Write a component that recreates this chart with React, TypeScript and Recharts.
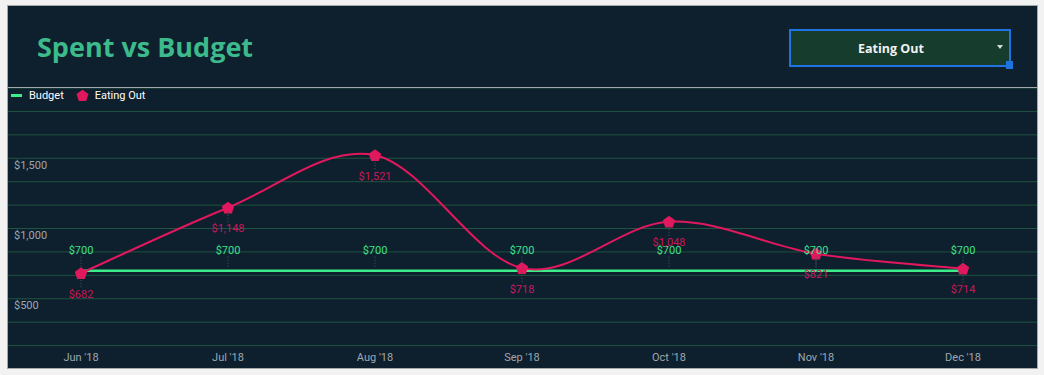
import React from "react";
import { CartesianGrid, LabelList, Legend, Line, LineChart, XAxis, YAxis } from "recharts";

// Spent vs Budget — monthly eating-out spend against a flat budget.

const months = ["Jun '18", "Jul '18", "Aug '18", "Sep '18", "Oct '18", "Nov '18", "Dec '18"];
const budget = [700, 700, 700, 700, 700, 700, 700];
const eatingOut = [682, 1148, 1521, 718, 1048, 821, 714];
const yTicks = [0, 166.667, 333.333, 500, 666.667, 833.333, 1000, 1166.667, 1333.333, 1500, 1666.667, 1833.333, 2000];
const yLabelled = [500, 1000, 1500];

const data = months.map((month, i) => ({ month, budget: budget[i], eatingOut: eatingOut[i] }));

const BG = "#0e1f2d";
const GRID = "#1f5441";
const BORDER = "#a3a8ab";
const TITLE = "#3cba8b";
const BUDGET = "#3cee89";
const BUDGET_LABEL = "#3fe08a";
const EAT = "#e2185e";
const EAT_LABEL = "#c8195b";
const AXIS_TEXT = "#9fa8ae";
const LEADER = "#4b5a62";
const FONT = "Roboto, 'Noto Sans', sans-serif";

const money = (v: number) => "$" + Math.round(v).toLocaleString("en-US");

// uniform Catmull-Rom spline, passed to Line as a d3-style curve factory
const catmullRom = (context: any) => {
  let pts: [number, number][] = [];
  return {
    areaStart() {},
    areaEnd() {},
    lineStart() {
      pts = [];
    },
    lineEnd() {
      if (!pts.length) return;
      context.moveTo(pts[0][0], pts[0][1]);
      for (let i = 0; i < pts.length - 1; i++) {
        const p0 = pts[i - 1] ?? pts[i];
        const p1 = pts[i];
        const p2 = pts[i + 1];
        const p3 = pts[i + 2] ?? pts[i + 1];
        context.bezierCurveTo(
          p1[0] + (p2[0] - p0[0]) / 6,
          p1[1] + (p2[1] - p0[1]) / 6,
          p2[0] - (p3[0] - p1[0]) / 6,
          p2[1] - (p3[1] - p1[1]) / 6,
          p2[0],
          p2[1]
        );
      }
    },
    point(x: number, y: number) {
      pts.push([x, y]);
    },
  };
};

const pentagon = (cx: number, cy: number, r: number) =>
  [0, 1, 2, 3, 4]
    .map((k) => {
      const a = -Math.PI / 2 + (k * 2 * Math.PI) / 5;
      return `${cx + r * Math.cos(a)},${cy + r * Math.sin(a)}`;
    })
    .join(" ");

const PentagonDot = (p: any) => <polygon points={pentagon(p.cx, p.cy + 0.5, 6.5)} fill={EAT} />;

const YTick = (p: any) => {
  const v = p.payload.value;
  if (!yLabelled.some((t) => Math.abs(t - v) < 1)) return <g />;
  return (
    <text x={6} y={p.y + 7} dominantBaseline="central" fill={AXIS_TEXT} fontSize={11} fontFamily={FONT}>
      {money(v)}
    </text>
  );
};

const XTick = (p: any) => (
  <text x={p.x} y={269} textAnchor="middle" dominantBaseline="central" fill={AXIS_TEXT} fontSize={11} fontFamily={FONT}>
    {p.payload.value}
  </text>
);

const BudgetLabel = (p: any) => (
  <g>
    <line x1={p.x} x2={p.x} y1={p.y - 14} y2={p.y - 2} stroke={LEADER} strokeDasharray="1 2" />
    <text x={p.x} y={p.y - 20} textAnchor="middle" dominantBaseline="central" fill={BUDGET_LABEL} fontSize={11} fontFamily={FONT}>
      {money(p.value)}
    </text>
  </g>
);

const EatLabel = (p: any) => (
  <g>
    <line x1={p.x} x2={p.x} y1={p.y + 4} y2={p.y + 15} stroke={LEADER} strokeDasharray="1 2" />
    <text x={p.x} y={p.y + 21} textAnchor="middle" dominantBaseline="central" fill={EAT_LABEL} fontSize={11} fontFamily={FONT}>
      {money(p.value)}
    </text>
  </g>
);

const LegendContent = (props: any) => (
  <div style={{ display: "flex", alignItems: "center", fontFamily: FONT, fontSize: 11, color: "#ffffff" }}>
    {(props.payload ?? []).map((e: any) => (
      <div key={e.value} style={{ display: "flex", alignItems: "center", marginRight: 12 }}>
        {e.dataKey === "eatingOut" ? (
          <svg width={13} height={13} style={{ marginRight: 6 }}>
            <polygon points={pentagon(6.5, 7, 6.3)} fill={EAT} />
          </svg>
        ) : (
          <svg width={11} height={13} style={{ marginRight: 7 }}>
            <rect x={0} y={5} width={11} height={3} fill={BUDGET} />
          </svg>
        )}
        <span>{e.value}</span>
      </div>
    ))}
  </div>
);

export default function App() {
  return (
    <div>
      <div style={{ position: "fixed", inset: 0, background: "#f2f2f2" }} />
      <div
        style={{
          position: "absolute",
          left: 7,
          top: 5,
          width: 1031,
          height: 364,
          boxSizing: "border-box",
          border: `1px solid ${BORDER}`,
          background: BG,
          overflow: "hidden",
        }}
      >
        <div style={{ position: "relative", height: 81, borderBottom: `1px solid ${BORDER}` }}>
          <div
            style={{
              position: "absolute",
              left: 29,
              top: 27,
              lineHeight: "28px",
              fontFamily: "'Open Sans', sans-serif",
              fontWeight: 700,
              fontSize: 27,
              color: TITLE,
              whiteSpace: "nowrap",
            }}
          >
            Spent vs Budget
          </div>
          <div
            style={{
              position: "absolute",
              left: 781,
              top: 23,
              width: 222,
              height: 38,
              boxSizing: "border-box",
              border: "2px solid #1f73e0",
              background: "#153c2c",
              display: "flex",
              alignItems: "center",
              justifyContent: "center",
              paddingRight: 18,
              fontFamily: "'Open Sans', sans-serif",
              fontWeight: 700,
              fontSize: 12.5,
              color: "#f2f2f2",
            }}
          >
            Eating Out
            <div
              style={{
                position: "absolute",
                left: 206,
                top: 14,
                width: 0,
                height: 0,
                borderLeft: "3.5px solid transparent",
                borderRight: "3.5px solid transparent",
                borderTop: "4px solid #d8dcdc",
              }}
            />
          </div>
          <div style={{ position: "absolute", left: 998, top: 55, width: 7, height: 8, background: "#1f73e0" }} />
        </div>
        <LineChart width={1030} height={281} data={data} margin={{ top: 0, right: 0, bottom: -1, left: -1 }}>
          <CartesianGrid vertical={false} stroke={GRID} strokeWidth={1} />
          <XAxis
            dataKey="month"
            height={1}
            axisLine={false}
            tickLine={false}
            interval={0}
            padding={{ left: 73, right: 75 }}
            tick={<XTick />}
          />
          <YAxis
            width={1}
            domain={[0, 2000]}
            ticks={yTicks}
            axisLine={false}
            tickLine={false}
            tick={<YTick />}
            interval={0}
          />
          <Legend
            verticalAlign="middle"
            align="center"
            layout="horizontal"
            wrapperStyle={{ top: 1, left: 3, width: "auto" }}
            content={<LegendContent />}
          />
          <Line
            name="Budget"
            dataKey="budget"
            stroke={BUDGET}
            strokeWidth={2.5}
            dot={false}
            activeDot={false}
            type="linear"
            isAnimationActive={false}
          >
            <LabelList dataKey="budget" content={<BudgetLabel />} />
          </Line>
          <Line
            name="Eating Out"
            dataKey="eatingOut"
            stroke={EAT}
            strokeWidth={2}
            dot={<PentagonDot />}
            activeDot={false}
            type={catmullRom as any}
            isAnimationActive={false}
          >
            <LabelList dataKey="eatingOut" content={<EatLabel />} />
          </Line>
        </LineChart>
      </div>
    </div>
  );
}
